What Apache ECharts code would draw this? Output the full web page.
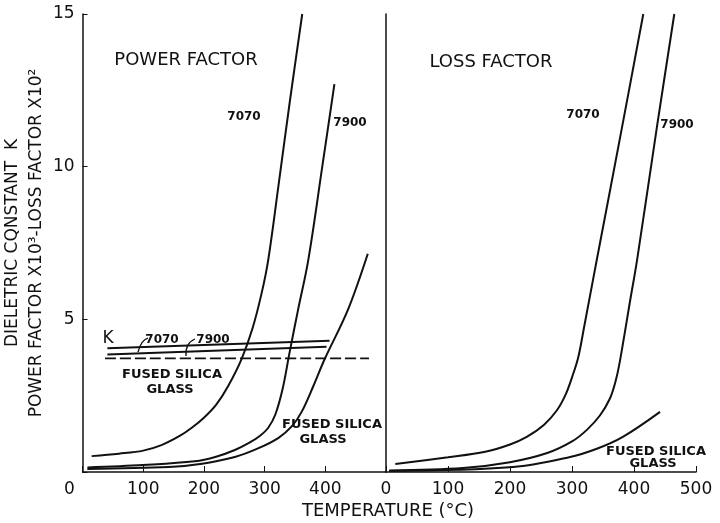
<!DOCTYPE html>
<html>
<head>
<meta charset="utf-8">
<script src="https://cdn.jsdelivr.net/npm/echarts@6/dist/echarts.min.js"></script>
<style>
  html, body { margin: 0; background: #fff; }
  #main { width: 720px; height: 523px; }
</style>
</head>
<body>
<div id="main"></div>
<script>
// temperature in °C
// left panel: power factor x10^3 and dielectric constant K
const pf7070 = [[15, 0.52], [60, 0.6], [100, 0.7], [130, 0.88], [160, 1.18], [180, 1.45], [200, 1.78], [220, 2.2], [240, 2.82], [262, 3.7], [280, 4.7], [295, 5.85], [306, 6.95], [323, 9.4], [342, 12.2], [362, 15]];
const pf7900 = [[8, 0.15], [100, 0.23], [185, 0.35], [220, 0.5], [251, 0.72], [275, 0.96], [292, 1.18], [306, 1.45], [318, 1.9], [330, 2.75], [341, 3.9], [355, 5.3], [372, 6.95], [395, 10], [415, 12.7]];
const pfSilica = [[8, 0.1], [142, 0.16], [197, 0.27], [251, 0.49], [290, 0.78], [323, 1.12], [345, 1.5], [361, 1.97], [380, 2.8], [399, 3.7], [437, 5.3], [470, 7.15]];
const k7070 = [[41, 4.05], [407, 4.3]];
const k7900 = [[41, 3.85], [402, 4.1]];
const kSilica = [[37, 3.72], [472, 3.72]];
// right panel: loss factor x10^2
const lf7070 = [[15, 0.26], [100, 0.48], [160, 0.66], [200, 0.9], [227, 1.15], [255, 1.55], [276, 2.03], [290, 2.55], [300, 3.1], [310, 3.75], [320, 4.8], [340, 6.95], [378, 11.0], [415, 15]];
const lf7900 = [[5, 0.05], [124, 0.13], [200, 0.32], [260, 0.62], [300, 1.0], [324, 1.38], [345, 1.85], [361, 2.4], [370, 2.95], [377, 3.6], [394, 5.64], [405, 6.95], [437, 11.3], [465, 15]];
const lfSilica = [[5, 0.03], [205, 0.16], [297, 0.49], [340, 0.76], [382, 1.15], [442, 1.97]];

const yTicks = [5, 10, 15];

const chart = echarts.init(document.getElementById('main'));
const ink = '#111';
const font = 'DejaVu Sans';

function curve(data, idx, dashed) {
  return {
    type: 'line',
    xAxisIndex: idx,
    yAxisIndex: idx,
    data: data,
    smooth: 0.35,
    symbol: 'none',
    silent: true,
    lineStyle: { color: ink, width: dashed ? 1.8 : 2, type: dashed ? [11, 4] : 'solid' },
  };
}

function note(text, x, y, size, bold) {
  return {
    type: 'text',
    x: x,
    y: y,
    style: {
      text: text,
      fill: ink,
      font: (bold ? 'bold ' : '') + size + 'px "' + font + '"',
      textAlign: 'center',
      textVerticalAlign: 'middle',
    },
  };
}

const xAxisBase = {
  type: 'value',
  min: 0,
  max: 500,
  interval: 100,
  splitLine: { show: false },
  axisLine: { lineStyle: { color: ink, width: 1.5 } },
  axisTick: { inside: true, length: 6, lineStyle: { color: ink } },
};

const option = {
  animation: false,
  backgroundColor: '#fff',
  grid: [
    { left: 80, right: 334, top: 14, bottom: 51 },
    { left: 386, width: 310, top: 14, bottom: 51 },
  ],
  xAxis: [
    Object.assign({}, xAxisBase, {
      gridIndex: 0,
      axisLabel: {
        color: ink, fontFamily: font, fontSize: 17, margin: 9,
        formatter: v => v === 500 ? '' : v === 0 ? '{z|0}' : String(v),
        rich: { z: { color: ink, fontFamily: font, fontSize: 17, padding: [0, 26, 0, 0] } },
      },
    }),
    Object.assign({}, xAxisBase, {
      gridIndex: 1,
      axisLabel: { color: ink, fontFamily: font, fontSize: 17, margin: 9 },
    }),
  ],
  yAxis: [
    {
      type: 'value', gridIndex: 0, min: 0, max: 15, interval: 5,
      splitLine: { show: false },
      axisLine: { show: true, lineStyle: { color: ink, width: 1.5 } },
      axisTick: { show: true, inside: true, length: 5, lineStyle: { color: ink } },
      axisLabel: {
        color: ink, fontFamily: font, fontSize: 17, margin: 8,
        formatter: v => yTicks.includes(v) ? String(v) : '',
      },
      name: 'DIELETRIC CQNSTANT  K\nPOWER FACTOR X10³-LOSS FACTOR X10²',
      nameLocation: 'middle',
      nameRotate: 90,
      nameGap: 30,
      nameTextStyle: { color: ink, fontFamily: font, fontSize: 17, lineHeight: 24 },
    },
    {
      type: 'value', gridIndex: 1, min: 0, max: 15, interval: 5,
      splitLine: { show: false },
      axisLine: { show: true, lineStyle: { color: ink, width: 1.5 } },
      axisTick: { show: false },
      axisLabel: { show: false },
    },
  ],
  series: [
    curve(pf7070, 0),
    curve(pf7900, 0),
    curve(pfSilica, 0),
    curve(k7070, 0),
    curve(k7900, 0),
    curve(kSilica, 0, true),
    curve(lf7070, 1),
    curve(lf7900, 1),
    curve(lfSilica, 1),
  ],
  graphic: [
    note('TEMPERATURE (°C)', 388, 511, 18),
    note('POWER FACTOR', 186, 60, 18),
    note('LOSS FACTOR', 491, 62, 18),
    note('7070', 244, 117, 12, true),
    note('7900', 350, 123, 12, true),
    note('7070', 583, 115, 12, true),
    note('7900', 677, 125, 12, true),
    note('K', 108, 339, 17),
    note('7070', 162, 340, 12, true),
    note('7900', 213, 340, 12, true),
    note('FUSED SILICA', 172, 375, 13, true),
    note('GLASS', 170, 390, 13, true),
    note('FUSED SILICA', 332, 425, 13, true),
    note('GLASS', 323, 440, 13, true),
    note('FUSED SILICA', 656, 452, 13, true),
    note('GLASS', 653, 464, 13, true),
    {
      type: 'bezierCurve',
      shape: { x1: 138, y1: 352, cpx1: 141, cpy1: 340, x2: 148, y2: 338 },
      style: { stroke: ink, lineWidth: 1.3, fill: null },
    },
    {
      type: 'bezierCurve',
      shape: { x1: 186, y1: 356, cpx1: 185, cpy1: 343, x2: 195, y2: 339 },
      style: { stroke: ink, lineWidth: 1.3, fill: null },
    },
  ],
};

chart.setOption(option);
</script>
</body>
</html>
